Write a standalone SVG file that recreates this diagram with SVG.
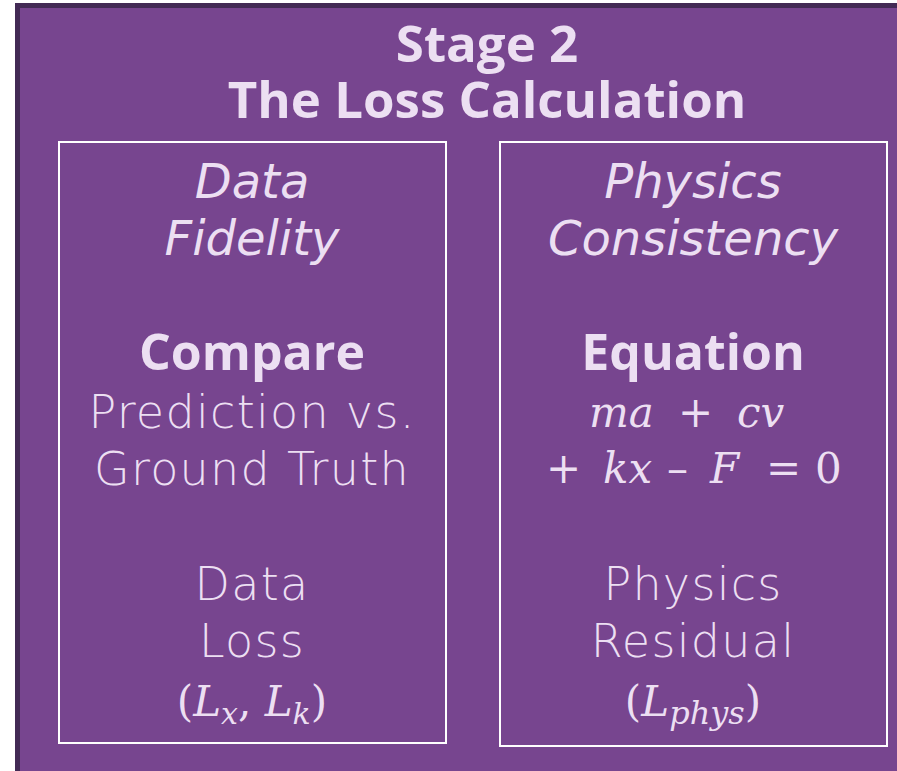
<svg xmlns="http://www.w3.org/2000/svg" width="897" height="771" viewBox="0 0 897 771">
<style>
.t{fill:#ECDFF2;text-anchor:middle}
.title{font-family:"Open Sans","Noto Sans",sans-serif;font-size:51px;font-weight:700}
.b{font-family:"Open Sans","Noto Sans",sans-serif;font-size:50px;font-weight:700}
.it{font-family:"DejaVu Sans",sans-serif;font-size:48px;font-style:italic;font-weight:200}
.l{font-family:"DejaVu Sans",sans-serif;font-size:46px;font-weight:200;letter-spacing:1.3px}
.m{fill:#ECDFF2;font-family:"DejaVu Serif","Liberation Serif",serif;font-size:42px}
.mi{font-style:italic}
.box{fill:none;stroke:#FFFFFF;stroke-width:2}
</style>
<rect width="897" height="771" fill="#FFFFFF"/>
<rect x="17.5" y="5.5" width="900" height="800" fill="#77458F" stroke="#432A55" stroke-width="5"/>
<g id="title">
<text class="t title" x="487" y="62">Stage 2</text>
<text class="t title" x="487" y="118">The Loss Calculation</text>
</g>
<g id="data-fidelity">
<rect class="box" x="59" y="142" width="387" height="601"/>
<text class="t it" x="252" y="198">Data</text>
<text class="t it" x="252" y="255">Fidelity</text>
<text class="t b" x="252" y="370">Compare</text>
<text class="t l" x="252" y="428">Prediction vs.</text>
<text class="t l" x="252" y="485">Ground Truth</text>
<text class="t l" x="252" y="600">Data</text>
<text class="t l" x="252" y="657">Loss</text>
<text class="m" x="252" y="716" text-anchor="middle">(<tspan class="mi">L</tspan><tspan class="mi" font-size="30" dy="8">x</tspan><tspan dy="-8">, </tspan><tspan class="mi">L</tspan><tspan class="mi" font-size="30" dy="8">k</tspan><tspan dy="-8">)</tspan></text>
</g>
<g id="physics-consistency">
<rect class="box" x="500" y="142" width="387" height="604"/>
<text class="t it" x="693" y="198">Physics</text>
<text class="t it" x="693" y="255">Consistency</text>
<text class="t b" x="693" y="370">Equation</text>
<text class="m mi" x="589" y="427">ma</text>
<text class="m" x="678" y="427">+</text>
<text class="m mi" x="737" y="427">cv</text>
<text class="m" x="546" y="483">+</text>
<text class="m mi" x="603" y="483">kx</text>
<text class="m" x="667" y="483">–</text>
<text class="m mi" x="710" y="483">F</text>
<text class="m" x="766" y="483">=</text>
<text class="m" x="815" y="483">0</text>
<text class="t l" x="693" y="600">Physics</text>
<text class="t l" x="693" y="657">Residual</text>
<text class="m" x="693" y="716" text-anchor="middle">(<tspan class="mi">L</tspan><tspan class="mi" font-size="32" dy="8">phys</tspan><tspan dy="-8">)</tspan></text>
</g>
</svg>
